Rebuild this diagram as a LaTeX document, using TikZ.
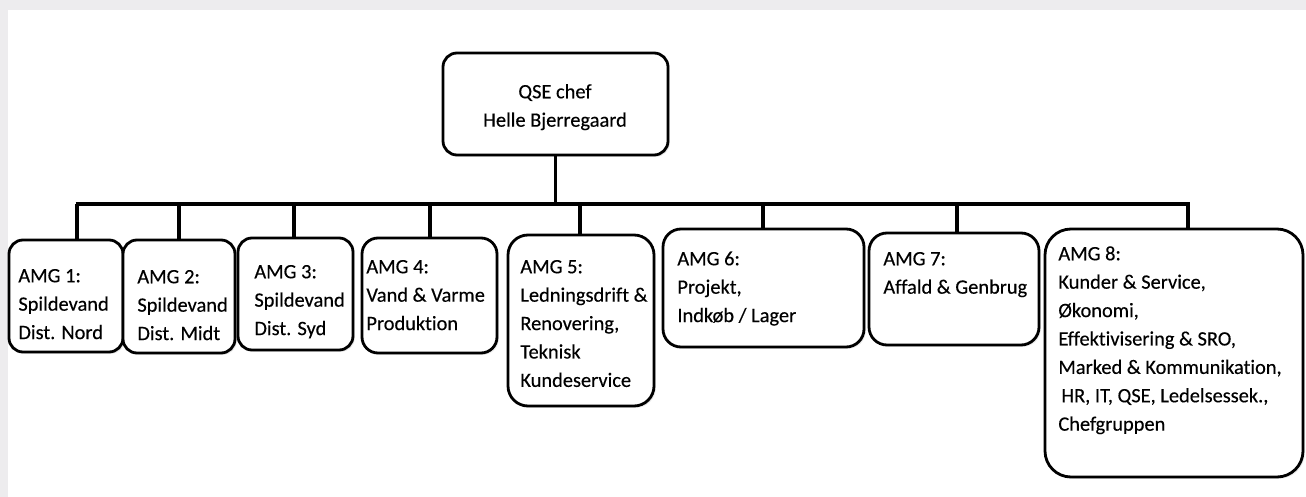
\documentclass[tikz,border=0pt]{standalone}
\usepackage{fontspec}
\setmainfont{Carlito}[Ligatures={NoCommon}, FakeBold=0.3]
\usetikzlibrary{fit,shadows}
\definecolor{bgray}{HTML}{EDECEE}
\tikzset{
  orgbox/.style={draw, line width=1.4pt, fill=white, inner sep=0pt, rounded corners=#1,
    drop shadow={opacity=0.18, shadow xshift=0.9pt, shadow yshift=-0.9pt}},
  orgbox/.default=7pt,
  orgtext/.style={anchor=north west, inner sep=0pt, align=left, font=\fontsize{10.2}{14.2}\selectfont},
  busline/.style={line width=2.4pt},
  dropline/.style={line width=1.6pt},
}
\begin{document}
\begin{tikzpicture}[x=0.5pt,y=-0.5pt]
\useasboundingbox (0,0) rectangle (1306,497);
\fill[bgray] (0,0) rectangle (1306,497);
\fill[white] (8,10) rectangle (1306,497);

% top box
\node[orgbox=7pt, fit={(443,53)(668,155)}] (boss) {};
\node[orgtext, anchor=north, align=center] (bosst) at (555,78) {\strut QSE chef\\Helle Bjerregaard};

% AMG boxes
\node[orgbox=7pt, fit={(9,240)(123,352)}] (a1) {};
\node[orgbox=7pt, fit={(123,240)(235,353)}] (a2) {};
\node[orgbox=7pt, fit={(238,238)(353,350)}] (a3) {};
\node[orgbox=8pt, fit={(362,238)(497,353)}] (a4) {};
\node[orgbox=10pt, fit={(508,235)(654,406)}] (a5) {};
\node[orgbox=9pt, fit={(663,229)(864,347)}] (a6) {};
\node[orgbox=9pt, fit={(869,233)(1039,345)}] (a7) {};
\node[orgbox=13pt, fit={(1045,229)(1303,477)}] (a8) {};

\node[orgtext] (t1) at (18,262) {\strut AMG 1:\\Spildevand\\Dist. Nord};
\node[orgtext] (t2) at (137,263) {\strut AMG 2:\\Spildevand\\Dist. Midt};
\node[orgtext] (t3) at (254,258) {\strut AMG 3:\\Spildevand\\Dist. Syd};
\node[orgtext] (t4) at (366,253) {\strut AMG 4:\\Vand \& Varme\\Produktion};
\node[orgtext] (t5) at (520,253) {\strut AMG 5:\\Ledningsdrift \&\\Renovering,\\Teknisk\\Kundeservice};
\node[orgtext] (t6) at (677,245) {\strut AMG 6:\\Projekt,\\Indkøb / Lager};
\node[orgtext] (t7) at (883,245) {\strut AMG 7:\\Affald \& Genbrug};
\node[orgtext] (t8) at (1058,240) {\strut AMG 8:\\Kunder \& Service,\\Økonomi,\\Effektivisering \& SRO,\\Marked \& Kommunikation,\\\hspace{1.5pt}HR, IT, QSE, Ledelsessek.,\\Chefgruppen};

% bus and connectors
\coordinate (busL) at (75.5,204);
\coordinate (busR) at (1190,204);
\coordinate (c1) at (77,204);
\coordinate (c2) at (179,204);
\coordinate (c3) at (294,204);
\coordinate (c4) at (430,204);
\coordinate (c5) at (580,204);
\coordinate (c6) at (763,204);
\coordinate (c7) at (957,204);
\coordinate (c8) at (1188,204);

\draw[dropline] (boss.south) -- (boss.south |- busL);
\draw[busline] (busL) -- (busR);
\foreach \i in {1,...,8} {
  \draw[dropline] (c\i) -- (c\i |- a\i.north);
}
\end{tikzpicture}
\end{document}
